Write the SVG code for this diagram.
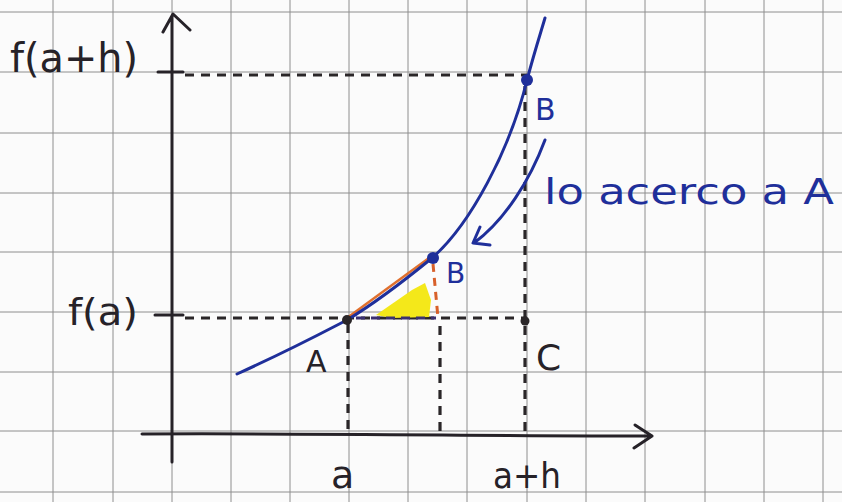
<svg xmlns="http://www.w3.org/2000/svg" width="842" height="502" viewBox="0 0 842 502">
<defs>
<style>
.grid{stroke:#8e8e8e;stroke-width:1;fill:none}
.ink{stroke:#262228;stroke-width:3;fill:none;stroke-linecap:round;stroke-linejoin:round}
.dash{stroke:#2a2628;stroke-width:3.2;fill:none;stroke-dasharray:9 7}
.blue{stroke:#1f2f9a;stroke-width:3;fill:none;stroke-linecap:round;stroke-linejoin:round}
.tb{font-family:"DejaVu Sans","Liberation Sans",sans-serif;fill:#262228}
.tblue{font-family:"DejaVu Sans","Liberation Sans",sans-serif;fill:#1f2f9a}
</style>
</defs>
<rect width="842" height="502" fill="#fbfbfb"/>
<g id="grid" class="grid">
<path d="M53,0V502M113,0V502M172,0V502M231,0V502M290,0V502M349,0V502M408,0V502M467,0V502M527,0V502M586,0V502M645,0V502M705,0V502M764,0V502M823,0V502"/>
<path d="M0,12H842M0,72H842M0,133H842M0,193H842M0,252H842M0,312H842M0,372H842M0,431H842M0,492H842"/>
</g>
<g id="axes">
<path class="ink" d="M172,462V16M163,32L173,14L190,30"/>
<path class="ink" d="M142,434C300,433 500,436 652,436M635,425L652,436L634,448"/>
<path class="ink" d="M158,72H183M155,315H183"/>
</g>
<g id="connectors">
<path class="dash" d="M185,75H527"/>
<path class="dash" d="M185,318H527"/>
<path class="dash" d="M348,324V432"/>
<path class="dash" d="M440,326V432"/>
<path class="dash" d="M525,86V434"/>
<path fill="#f4e81a" d="M376,315L412,290L425,283L431,300L429,317L392,318Z"/>
<path stroke="#e0702e" stroke-width="2.5" fill="none" d="M347,318L429,258"/>
<path stroke="#d8602a" stroke-width="3" stroke-dasharray="8 6" fill="none" d="M433,264L438,318"/>
<path stroke="#3a3070" stroke-width="3" stroke-dasharray="9 6" fill="none" d="M356,318H436"/>
</g>
<g id="curve">
<path class="blue" d="M237,374C290,350 320,334 347,320C380,300 410,276 432,258C470,225 510,150 527,80C535,50 540,35 545,18"/>
<path class="blue" d="M545,140C530,180 505,220 474,243M480,227L473,243L490,245"/>
</g>
<g id="points">
<circle cx="347" cy="320" r="5" fill="#2a2628"/>
<circle cx="527" cy="80" r="6" fill="#1f2f9a"/>
<circle cx="433" cy="258" r="6" fill="#1f2f9a"/>
<circle cx="525" cy="321" r="4.5" fill="#2a2628"/>
</g>
<g id="labels">
<text class="tb" x="10" y="72" font-size="40" textLength="128" lengthAdjust="spacingAndGlyphs">f(a+h)</text>
<text class="tb" x="68" y="325" font-size="38" textLength="70" lengthAdjust="spacingAndGlyphs">f(a)</text>
<text class="tb" x="306" y="372" font-size="30">A</text>
<text class="tb" x="536" y="370" font-size="36">C</text>
<text class="tb" x="331" y="488" font-size="38">a</text>
<text class="tb" x="493" y="488" font-size="36" textLength="68" lengthAdjust="spacingAndGlyphs">a+h</text>
<text class="tblue" x="535" y="120" font-size="30">B</text>
<text class="tblue" x="446" y="283" font-size="28">B</text>
<text class="tblue" x="544" y="204" font-size="36" textLength="290" lengthAdjust="spacingAndGlyphs">lo acerco a A</text>
</g>
</svg>
